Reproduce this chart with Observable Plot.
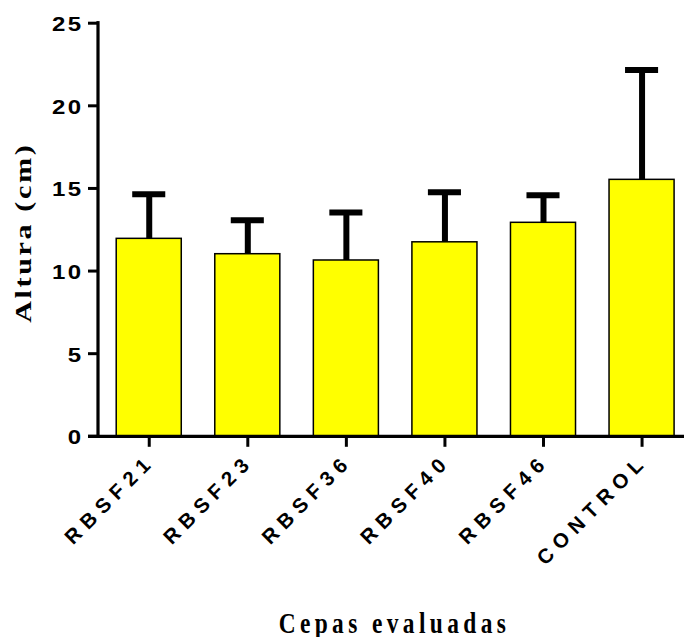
<!DOCTYPE html>
<html>
<head>
<meta charset="utf-8">
<script src="https://cdn.jsdelivr.net/npm/d3@7"></script>
<script src="https://cdn.jsdelivr.net/npm/@observablehq/plot@0.6"></script>
<style>
  html, body { margin: 0; padding: 0; background: white; }
</style>
</head>
<body>
<div id="chart"></div>
<script>
// ---- data ----
const categories = ["RBSF21", "RBSF23", "RBSF36", "RBSF40", "RBSF46", "CONTROL"];
const means = [11.95, 11.02, 10.64, 11.74, 12.92, 15.52];
const sds = [2.70, 2.05, 2.90, 3.03, 1.67, 6.65];
const yTicks = [0, 5, 10, 15, 20, 25];
const yTitle = "Altura (cm)";
const xTitle = "Cepas evaluadas";

const data = categories.map((c, i) => ({cat: c, mean: means[i], sd: sds[i]}));

const W = 684, H = 637;
const mL = 98, mR = 0, mT = 22.7, mB = 201.2;
const frameW = W - mL - mR, frameH = H - mT - mB;
const sans = "'Liberation Sans', Arial, sans-serif";
const serif = "'Liberation Serif', 'Times New Roman', serif";

const plot = Plot.plot({
  width: W, height: H,
  marginLeft: mL, marginRight: mR, marginTop: mT, marginBottom: mB,
  x: {domain: categories, range: [82.7, 707.6], padding: 0.34, round: false, axis: null},
  y: {domain: [yTicks[0], yTicks[yTicks.length - 1]], axis: null},
  marks: [
    Plot.barY(data, {x: "cat", y: "mean", fill: "#ffff00", stroke: "black", strokeWidth: 1.5}),
    Plot.ruleX(data, {x: "cat", y1: "mean", y2: d => d.mean + d.sd, stroke: "black", strokeWidth: 6}),
    Plot.tickY(data, {x: "cat", y: d => d.mean + d.sd, stroke: "black", strokeWidth: 6, insetLeft: 16, insetRight: 16}),
    // y axis line
    Plot.rect([yTicks], {y1: d => d[0], y2: d => d[d.length - 1], fill: "black",
      insetLeft: -1.6, insetRight: frameW - 1.6, insetTop: -1.6, insetBottom: -1.6}),
    // y ticks
    Plot.ruleY(yTicks, {y: d => d, stroke: "black", strokeWidth: 3, insetLeft: -10, insetRight: frameW}),
    // x axis line
    Plot.ruleY([yTicks[0]], {y: d => d, stroke: "black", strokeWidth: 3.3, insetLeft: -10}),
    // x ticks
    Plot.ruleX(categories, {x: d => d, stroke: "black", strokeWidth: 3, insetTop: frameH, insetBottom: -11}),
    // y tick labels
    Plot.text(yTicks, {y: d => d, text: d => String(d), frameAnchor: "left", textAnchor: "end", lineAnchor: "middle",
      dx: -15, dy: 1.5, fontSize: 20, fontWeight: "bold", fontFamily: sans, fill: "black"}),
    // x tick labels
    Plot.text(categories, {x: d => d, text: d => d, frameAnchor: "bottom", textAnchor: "end", lineAnchor: "bottom",
      rotate: -45, dx: 7, dy: 26, fontSize: 20.5, fontWeight: "bold", fontFamily: sans, fill: "black"}),
    // axis titles
    Plot.text([xTitle], {text: d => d, frameAnchor: "bottom", textAnchor: "middle", lineAnchor: "bottom",
      dx: 3, dy: 197, fontSize: 23.4, fontWeight: "bold", fontFamily: serif, fill: "black"}),
    Plot.text([yTitle], {text: d => d, frameAnchor: "left", textAnchor: "middle", lineAnchor: "middle",
      rotate: -90, dx: -75, dy: 3, fontSize: 23.4, fontWeight: "bold", fontFamily: serif, fill: "black"})
  ]
});

document.getElementById("chart").appendChild(plot);

// letter spacing / glyph stretch to match the reference typography
const yLabelSet = new Set(yTicks.map(String));
const catSet = new Set(categories);
const pxAttr = v => (v == null || /em$/.test(v)) ? 0 : (parseFloat(v) || 0);
plot.querySelectorAll("text").forEach(t => {
  const s = t.textContent;
  let sx = 1, sy = 1, ls = null;
  if (yLabelSet.has(s)) { ls = "2px"; sx = 1.2; }
  else if (catSet.has(s)) ls = "6.5px";
  else if (s === xTitle) { ls = "4.4px"; sy = 1.29; }
  else if (s === yTitle) { ls = "2px"; sx = 1.29; }
  if (ls) t.style.letterSpacing = ls;
  if (sx !== 1 || sy !== 1) {
    const x = pxAttr(t.getAttribute("x")), y = pxAttr(t.getAttribute("y"));
    const tr = t.getAttribute("transform") || "";
    t.setAttribute("transform", `${tr} translate(${x},${y}) scale(${sx},${sy}) translate(${-x},${-y})`);
  }
});
</script>
</body>
</html>
